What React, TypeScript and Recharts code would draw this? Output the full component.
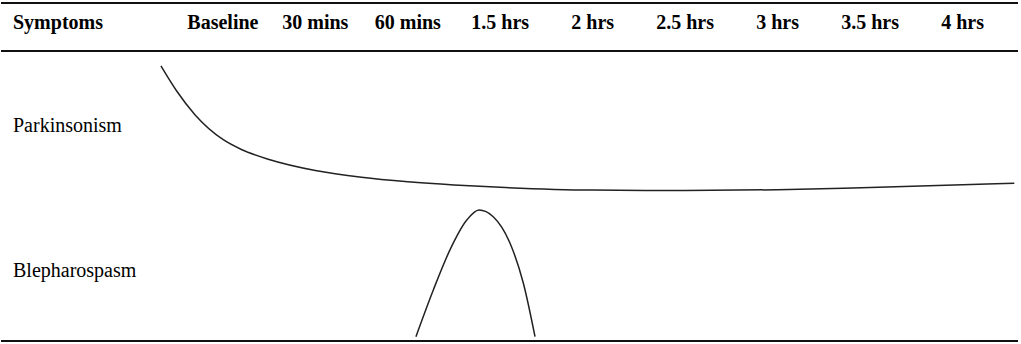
import { LineChart, Line, XAxis, YAxis, ReferenceLine } from "recharts";

// header columns (hours after injection)
const timePoints = [0, 0.5, 1, 1.5, 2, 2.5, 3, 3.5, 4];
const timeLabels = ["Baseline", "30 mins", "60 mins", "1.5 hrs", "2 hrs", "2.5 hrs", "3 hrs", "3.5 hrs", "4 hrs"];

// symptom rows (row value = centre of its band)
const symptomRows = [0.5, 1.5];
const symptomLabels = ["Blepharospasm", "Parkinsonism"];

// parkinsonism severity curve
const parkinsonismHours = [-0.335, -0.25, -0.15, 0, 0.1, 0.25, 0.5, 0.75, 1, 1.25, 1.5, 2, 2.5, 3, 3.5, 4, 4.28];
const parkinsonismLevel = [1.897, 1.724, 1.559, 1.39, 1.321, 1.252, 1.176, 1.129, 1.098, 1.076, 1.06, 1.041, 1.038, 1.043, 1.059, 1.077, 1.088];

// blepharospasm curve
const blepharoHours = [1.044, 1.138, 1.228, 1.319, 1.385, 1.462, 1.553, 1.625, 1.688];
const blepharoLevel = [0.03, 0.352, 0.628, 0.834, 0.903, 0.857, 0.674, 0.398, 0.03];

const domainMin = -1.2;
const domainMax = 4.3;

const parkinsonismData = parkinsonismHours.map((t, i) => ({ t, v: parkinsonismLevel[i] }));
const blepharoData = blepharoHours.map((t, i) => ({ t, v: blepharoLevel[i] }));

const font = "'Liberation Serif', 'Times New Roman', serif";

const HeaderTick = (props: any) => {
  const { x, y, payload } = props;
  if (payload.value === domainMin) {
    return (
      <text x={x + 12} y={y} dy={-22.5} textAnchor="start" fontFamily={font} fontSize={20} fontWeight="bold" fill="#000">
        Symptoms
      </text>
    );
  }
  const idx = timePoints.indexOf(payload.value);
  return (
    <text x={x} y={y} dy={-22.5} textAnchor="middle" fontFamily={font} fontSize={20} fontWeight="bold" fill="#000">
      {timeLabels[idx]}
    </text>
  );
};

const RowTick = (props: any) => {
  const { y, payload } = props;
  const idx = symptomRows.indexOf(payload.value);
  return (
    <text x={13} y={y} dy={8.5} textAnchor="start" fontFamily={font} fontSize={20} fill="#000">
      {symptomLabels[idx]}
    </text>
  );
};

export default function App() {
  return (
    <div style={{ position: "absolute", left: 0, top: 0, background: "#fff" }}>
      <LineChart width={1021} height={344} margin={{ top: 3, right: 3, bottom: 3, left: 0 }}>
        <XAxis
          type="number"
          dataKey="t"
          orientation="top"
          height={48}
          domain={[domainMin, domainMax]}
          allowDataOverflow
          ticks={[domainMin, ...timePoints]}
          interval={0}
          tickSize={0}
          tickMargin={0}
          axisLine={false}
          tickLine={false}
          tick={<HeaderTick />}
        />
        <YAxis
          type="number"
          domain={[0, 2]}
          ticks={symptomRows}
          interval={0}
          width={1}
          tickSize={0}
          tickMargin={0}
          axisLine={false}
          tickLine={false}
          tick={<RowTick />}
        />
        <ReferenceLine y={2.331} stroke="#111" strokeWidth={2} ifOverflow="visible" />
        <ReferenceLine y={2} stroke="#111" strokeWidth={2} />
        <ReferenceLine y={0} stroke="#111" strokeWidth={2} />
        <Line
          data={parkinsonismData}
          dataKey="v"
          type="monotone"
          stroke="#222"
          strokeWidth={1.5}
          dot={false}
          activeDot={false}
          isAnimationActive={false}
        />
        <Line
          data={blepharoData}
          dataKey="v"
          type="monotone"
          stroke="#222"
          strokeWidth={1.5}
          dot={false}
          activeDot={false}
          isAnimationActive={false}
        />
      </LineChart>
    </div>
  );
}
